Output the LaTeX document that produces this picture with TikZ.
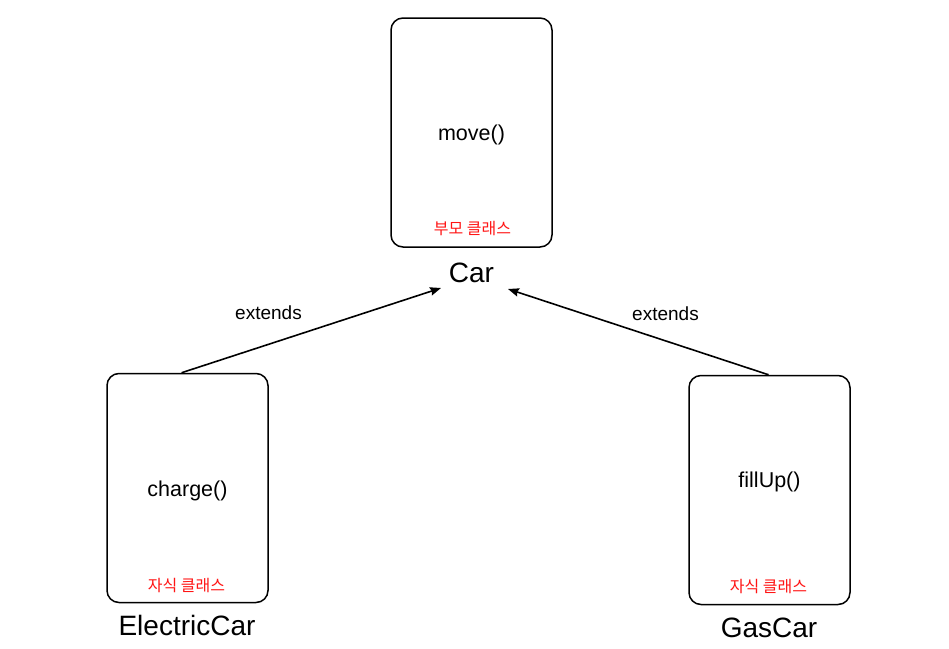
\documentclass[tikz,border=0pt]{standalone}
\usepackage{fontspec}
\setmainfont{Liberation Sans}
\newfontfamily\kr{Noto Sans CJK KR}
\usetikzlibrary{arrows.meta,calc}
\definecolor{krred}{RGB}{255,20,20}
\begin{document}
\begin{tikzpicture}[x=1pt,y=-1pt,
  cls/.style={draw,line width=1.5pt,rounded corners=12pt,minimum width=161pt,minimum height=229pt,inner sep=0pt},
  meth/.style={font=\fontsize{21.5}{25}\selectfont},
  tag/.style={text=krred,font=\kr\fontsize{16}{19}\selectfont},
  cname/.style={font=\fontsize{28}{32}\selectfont},
  lbl/.style={font=\fontsize{19}{22}\selectfont},
  ext/.style={line width=1.6pt,-{Stealth[length=11pt,width=8.5pt,inset=1.5pt]}}]
\useasboundingbox (0,0) rectangle (949,648);
\node[cls] (car) at (471.5,132.5) {};
\node[meth] (carm) at (471.5,135) {move()};
\node[tag] (cart) at (472.5,229) {부모 클래스};
\node[cname] (carn) at (471.5,273) {Car};
\node[cls] (ec) at (187.5,488) {};
\node[meth] (ecm) at (187.5,491) {charge()};
\node[tag] (ect) at (186.5,585) {자식 클래스};
\node[cname] (ecn) at (187,625) {ElectricCar};
\node[cls] (gc) at (769.5,490) {};
\node[meth] (gcm) at (769.5,482) {fillUp()};
\node[tag] (gct) at (768.5,586) {자식 클래스};
\node[cname] (gcn) at (769,628) {GasCar};
\coordinate (tipA) at (441,288);
\coordinate (tipB) at (508,289);
\draw[ext] ($(ec.north)+(-6,0)$) -- (tipA);
\draw[ext] ($(gc.north)+(-1,0)$) -- (tipB);
\node[lbl] (la) at (268.5,313) {extends};
\node[lbl] (lb) at (665.5,314) {extends};
\end{tikzpicture}
\end{document}
